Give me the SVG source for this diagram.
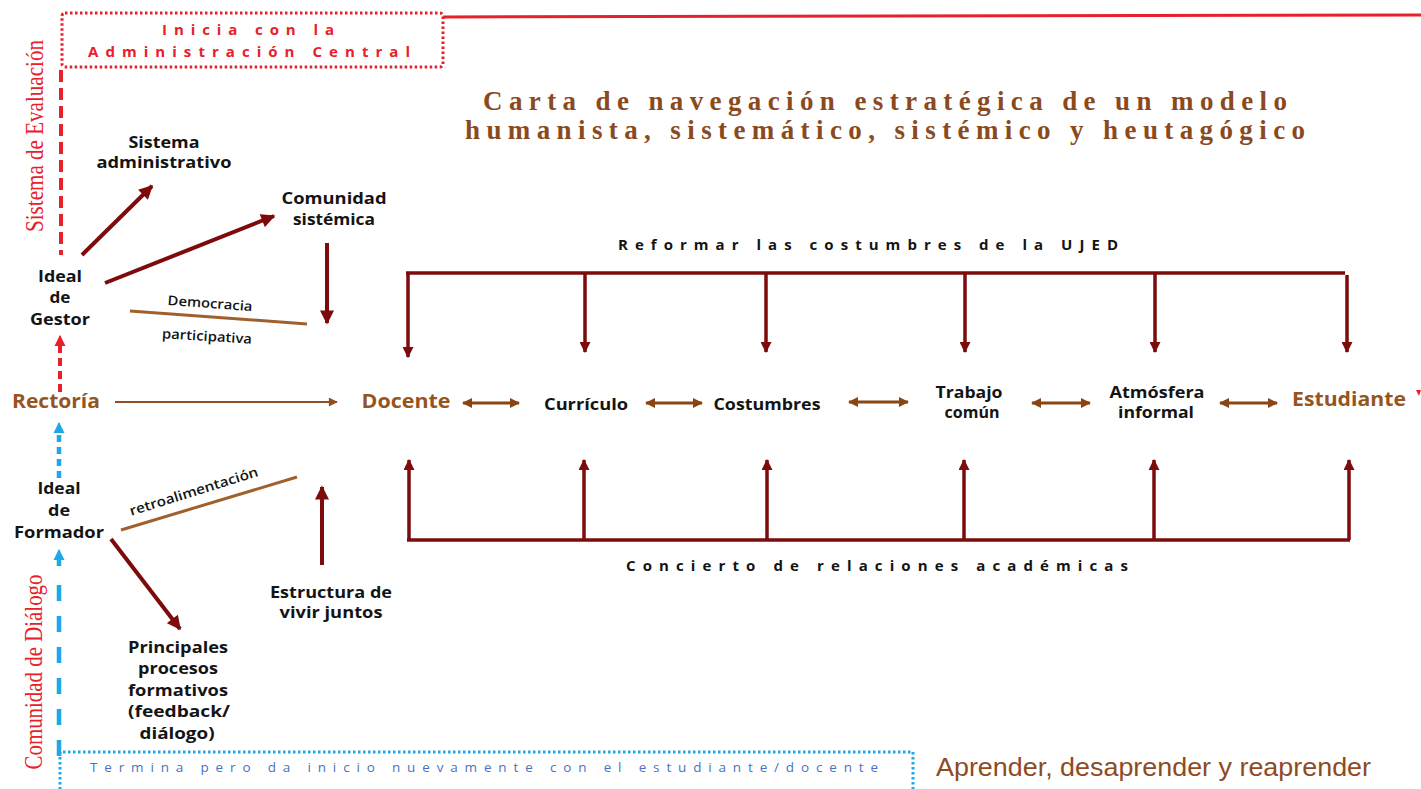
<svg xmlns="http://www.w3.org/2000/svg" width="1421" height="789" viewBox="0 0 1421 789">
<defs>
<style>
.t{font-family:"Open Sans","Liberation Sans",sans-serif;font-weight:700;font-size:16px;fill:#141414;text-anchor:middle}
.bt{font-family:"Open Sans","Liberation Sans",sans-serif;font-weight:700;font-size:19px;fill:#96541f;text-anchor:middle}
.sm{font-family:"Open Sans","Liberation Sans",sans-serif;font-weight:600;font-size:13.5px;fill:#141414;text-anchor:middle}
.sp{font-family:"Open Sans","Liberation Sans",sans-serif;font-weight:700;font-size:15px;fill:#141414}
.hd{font-family:"Open Sans","Liberation Sans",sans-serif;font-weight:700;font-size:15px;fill:#e8202a}
.ft{font-family:"Open Sans","Liberation Sans",sans-serif;font-weight:400;font-size:13.5px;fill:#4a72c2}
.side{font-family:"Liberation Serif","Times New Roman",serif;font-size:25px;fill:#e8202a;text-anchor:middle}
.title{font-family:"Liberation Serif","Times New Roman",serif;font-weight:700;font-size:27px;fill:#8b4a1e}
.apr{font-family:"Liberation Sans",Arial,sans-serif;font-size:25px;fill:#8f4a1f}
.dr{stroke:#7d0b0b;stroke-width:3.5;fill:none}
.drb{stroke:#7d0b0b;stroke-width:4;fill:none}
.br{stroke:#a0602c;stroke-width:3;fill:none}
.dbl{stroke:#8b4513;stroke-width:3;fill:none}
.rd{stroke:#e8202a;stroke-width:4;fill:none}
.bl{stroke:#1fa8e6;stroke-width:4.5;fill:none}
.dot{stroke-width:3;stroke-dasharray:2.5 2.5;fill:none}
</style>
<marker id="mDR" viewBox="0 0 10 10" refX="9" refY="5" markerWidth="11" markerHeight="11" markerUnits="userSpaceOnUse" orient="auto"><path d="M0,0 L10,5 L0,10 z" fill="#7d0b0b"/></marker>
<marker id="mDRB" viewBox="0 0 10 10" refX="9" refY="5" markerWidth="15" markerHeight="14" markerUnits="userSpaceOnUse" orient="auto"><path d="M0,0 L10,5 L0,10 z" fill="#7d0b0b"/></marker>
<marker id="mBr" viewBox="0 0 10 10" refX="9" refY="5" markerWidth="11" markerHeight="10" markerUnits="userSpaceOnUse" orient="auto-start-reverse"><path d="M0,0 L10,5 L0,10 z" fill="#8b4513"/></marker>
<marker id="mBrT" viewBox="0 0 10 10" refX="9" refY="5" markerWidth="11" markerHeight="9" markerUnits="userSpaceOnUse" orient="auto"><path d="M0,0 L10,5 L0,10 z" fill="#8f4f22"/></marker>
<marker id="mRd" viewBox="0 0 10 10" refX="9" refY="5" markerWidth="11" markerHeight="12" markerUnits="userSpaceOnUse" orient="auto"><path d="M0,0 L10,5 L0,10 z" fill="#e8202a"/></marker>
<marker id="mBl" viewBox="0 0 10 10" refX="9" refY="5" markerWidth="11" markerHeight="12" markerUnits="userSpaceOnUse" orient="auto"><path d="M0,0 L10,5 L0,10 z" fill="#1fa8e6"/></marker>
</defs>
<rect width="1421" height="789" fill="#ffffff"/>

<g id="frame">
<rect x="62" y="13" width="381" height="54" rx="3" class="dot" stroke="#e8202a"/>
<path d="M443,17 L1421,15" stroke="#e8202a" stroke-width="3" fill="none"/>
<path d="M61,70 V255" class="rd" stroke-dasharray="12 6"/>
<path d="M1416,390 L1421,390 L1419,396 z" fill="#e8202a"/>
<path d="M58,752 H913 V789" class="dot" stroke="#1fa8e6"/>
<path d="M60,752 V789" class="dot" stroke="#1fa8e6"/>
</g>

<g id="header">
<text class="hd" x="162" y="35" textLength="172" lengthAdjust="spacing">Inicia con la</text>
<text class="hd" x="88" y="57" textLength="322" lengthAdjust="spacing">Administración Central</text>
</g>

<g id="title">
<text class="title" x="483" y="110" textLength="804" lengthAdjust="spacing">Carta de navegación estratégica de un modelo</text>
<text class="title" x="465" y="139" textLength="840" lengthAdjust="spacing">humanista, sistemático, sistémico y heutagógico</text>
</g>

<g id="sistema-evaluacion">
<text class="side" transform="translate(43,136) rotate(-90)" textLength="192" lengthAdjust="spacingAndGlyphs">Sistema de Evaluación</text>
</g>
<g id="comunidad-dialogo">
<text class="side" transform="translate(42,672) rotate(-90)" textLength="195" lengthAdjust="spacingAndGlyphs">Comunidad de Diálogo</text>
</g>

<g id="sistema-administrativo">
<text class="t" x="164" y="148" textLength="71" lengthAdjust="spacingAndGlyphs">Sistema</text>
<text class="t" x="164" y="168" textLength="135" lengthAdjust="spacingAndGlyphs">administrativo</text>
</g>
<g id="comunidad-sistemica">
<text class="t" x="334" y="204" textLength="105" lengthAdjust="spacingAndGlyphs">Comunidad</text>
<text class="t" x="334" y="225" textLength="82" lengthAdjust="spacingAndGlyphs">sistémica</text>
</g>
<g id="ideal-gestor">
<text class="t" x="60" y="282" textLength="44" lengthAdjust="spacingAndGlyphs">Ideal</text>
<text class="t" x="60" y="303" textLength="21" lengthAdjust="spacingAndGlyphs">de</text>
<text class="t" x="60" y="325" textLength="60" lengthAdjust="spacingAndGlyphs">Gestor</text>
</g>
<g id="rectoria">
<text class="bt" x="56" y="408" textLength="88" lengthAdjust="spacingAndGlyphs">Rectoría</text>
</g>
<g id="ideal-formador">
<text class="t" x="59" y="494" textLength="43" lengthAdjust="spacingAndGlyphs">Ideal</text>
<text class="t" x="59" y="516" textLength="22" lengthAdjust="spacingAndGlyphs">de</text>
<text class="t" x="59" y="538" textLength="90" lengthAdjust="spacingAndGlyphs">Formador</text>
</g>
<g id="estructura">
<text class="t" x="331" y="598" textLength="122" lengthAdjust="spacingAndGlyphs">Estructura de</text>
<text class="t" x="331" y="618" textLength="103" lengthAdjust="spacingAndGlyphs">vivir juntos</text>
</g>
<g id="principales">
<text class="t" x="178" y="653" textLength="100" lengthAdjust="spacingAndGlyphs">Principales</text>
<text class="t" x="178" y="674" textLength="80" lengthAdjust="spacingAndGlyphs">procesos</text>
<text class="t" x="178" y="696" textLength="100" lengthAdjust="spacingAndGlyphs">formativos</text>
<text class="t" x="179" y="717" textLength="102" lengthAdjust="spacingAndGlyphs">(feedback/</text>
<text class="t" x="177" y="739" textLength="75" lengthAdjust="spacingAndGlyphs">diálogo)</text>
</g>

<g id="docente"><text class="bt" x="406" y="408" textLength="89" lengthAdjust="spacingAndGlyphs">Docente</text></g>
<g id="curriculo"><text class="t" x="586" y="410" textLength="84" lengthAdjust="spacingAndGlyphs">Currículo</text></g>
<g id="costumbres"><text class="t" x="767" y="410" textLength="107" lengthAdjust="spacingAndGlyphs">Costumbres</text></g>
<g id="trabajo-comun">
<text class="t" x="969" y="398" textLength="67" lengthAdjust="spacingAndGlyphs">Trabajo</text>
<text class="t" x="972" y="418">común</text>
</g>
<g id="atmosfera-informal">
<text class="t" x="1157" y="398" textLength="95" lengthAdjust="spacingAndGlyphs">Atmósfera</text>
<text class="t" x="1156" y="418" textLength="76" lengthAdjust="spacingAndGlyphs">informal</text>
</g>
<g id="estudiante"><text class="bt" x="1349" y="406" textLength="114" lengthAdjust="spacingAndGlyphs">Estudiante</text></g>

<g id="reformar"><text class="sp" x="618" y="250" textLength="500" lengthAdjust="spacing">Reformar las costumbres de la UJED</text></g>
<g id="concierto"><text class="sp" x="626" y="571" textLength="502" lengthAdjust="spacing">Concierto de relaciones académicas</text></g>

<g id="footer">
<text class="ft" x="90" y="772" textLength="788" lengthAdjust="spacing">Termina pero da inicio nuevamente con el estudiante/docente</text>
<text class="apr" x="936" y="776" textLength="435" lengthAdjust="spacingAndGlyphs">Aprender, desaprender y reaprender</text>
</g>

<g id="connectors">
<path d="M82,255 L152,186" class="drb" marker-end="url(#mDRB)"/>
<path d="M105,283 L274,216" class="drb" marker-end="url(#mDRB)"/>
<path d="M327,243 L327,323" class="drb" marker-end="url(#mDRB)"/>
<path d="M130,311 L307,324" class="br"/>
<text class="sm" x="210" y="308" transform="rotate(4.2 210 304)" textLength="85" lengthAdjust="spacingAndGlyphs">Democracia</text>
<text class="sm" x="207" y="341" transform="rotate(3.5 207 337)" textLength="90" lengthAdjust="spacingAndGlyphs">participativa</text>
<path d="M121,530 L297,477" class="br"/>
<text class="sm" x="194" y="496" transform="rotate(-17.3 194 492)" textLength="134" lengthAdjust="spacingAndGlyphs">retroalimentación</text>
<path d="M322,565 L322,487" class="drb" marker-end="url(#mDRB)"/>
<path d="M111,539 L180,629" class="drb" marker-end="url(#mDRB)"/>
<path d="M115,402 L337,402" stroke="#8f4f22" stroke-width="2" fill="none" marker-end="url(#mBrT)"/>

<path d="M60,392 V345" class="rd" stroke-dasharray="8 5"/>
<path d="M60,346 V336" stroke="#e8202a" stroke-width="1" marker-end="url(#mRd)"/>
<path d="M59,478 V432" class="bl" stroke-dasharray="7 5"/>
<path d="M59,433 V423" stroke="#1fa8e6" stroke-width="1" marker-end="url(#mBl)"/>
<path d="M59,566 V559" class="bl"/>
<path d="M59,560 V550" stroke="#1fa8e6" stroke-width="1" marker-end="url(#mBl)"/>
<path d="M59,585 V757" class="bl" stroke-dasharray="16 15"/>

<path d="M406,273 H1345" class="dr"/>
<path d="M408,273 V357" class="dr" marker-end="url(#mDR)"/>
<path d="M585,273 V352" class="dr" marker-end="url(#mDR)"/>
<path d="M766,273 V352" class="dr" marker-end="url(#mDR)"/>
<path d="M965,273 V352" class="dr" marker-end="url(#mDR)"/>
<path d="M1155,273 V352" class="dr" marker-end="url(#mDR)"/>
<path d="M1347,275 V352" class="dr" marker-end="url(#mDR)"/>

<path d="M407,540 H1350" class="dr"/>
<path d="M409,540 V460" class="dr" marker-end="url(#mDR)"/>
<path d="M584,540 V460" class="dr" marker-end="url(#mDR)"/>
<path d="M767,540 V460" class="dr" marker-end="url(#mDR)"/>
<path d="M964,540 V460" class="dr" marker-end="url(#mDR)"/>
<path d="M1154,540 V460" class="dr" marker-end="url(#mDR)"/>
<path d="M1349,540 V460" class="dr" marker-end="url(#mDR)"/>

<path d="M463,403 H519" class="dbl" marker-start="url(#mBr)" marker-end="url(#mBr)"/>
<path d="M646,403 H702" class="dbl" marker-start="url(#mBr)" marker-end="url(#mBr)"/>
<path d="M849,402 H908" class="dbl" marker-start="url(#mBr)" marker-end="url(#mBr)"/>
<path d="M1032,403 H1090" class="dbl" marker-start="url(#mBr)" marker-end="url(#mBr)"/>
<path d="M1220,403 H1277" class="dbl" marker-start="url(#mBr)" marker-end="url(#mBr)"/>
</g>
</svg>
